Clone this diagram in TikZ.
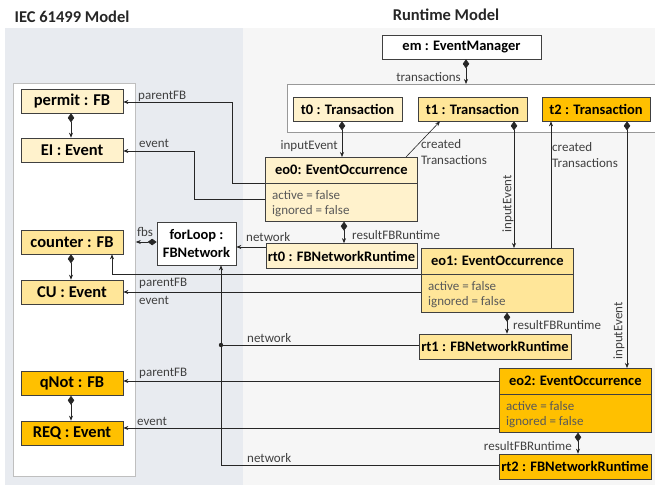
\documentclass[tikz,border=0pt]{standalone}
\usepackage{fontspec}
\setmainfont{Carlito}
\usetikzlibrary{arrows.meta,calc}

\definecolor{panelL}{HTML}{E8EBF0}
\definecolor{panelR}{HTML}{F6F6F6}
\definecolor{cream}{HTML}{FFF2CC}
\definecolor{lightyel}{HTML}{FFE699}
\definecolor{gold}{HTML}{FFC000}
\definecolor{edge}{HTML}{404040}
\definecolor{lbl}{HTML}{404040}
\definecolor{attrc}{HTML}{595959}
\definecolor{frame}{HTML}{BFBFBF}

% EventOccurrence object: name, fill, left x, top y, title
\newcommand\eobox[5]{%
  \node[obj, fill=#2, minimum width=152, minimum height=64, anchor=north west] (#1) at (#3,#4) {};
  \draw[draw=edge, line width=0.7pt] ($(#1.north west)+(0,26)$) -- ($(#1.north east)+(0,26)$);
  \node[objtext] (#1-h) at ($(#1.north)+(0,13)$) {#5};
  \node[attrs, anchor=west] (#1-a) at ($(#1.north west)+(7,38)$) {active = false};
  \node[attrs, anchor=west] (#1-i) at ($(#1.north west)+(7,54)$) {ignored = false};
}

\begin{document}
\begin{tikzpicture}[x=1pt,y=-1pt,
  obj/.style={draw=edge, line width=0.7pt, inner sep=0pt,
    font=\fontsize{14.5}{16}\selectfont\bfseries, minimum height=24},
  fbobj/.style={obj, minimum width=102, font=\fontsize{16.5}{18}\selectfont\bfseries},
  objtext/.style={inner sep=0pt, font=\fontsize{14.5}{16}\selectfont\bfseries},
  attrs/.style={inner sep=0pt, font=\fontsize{13}{15}\selectfont, text=attrc},
  lab/.style={inner sep=0pt, font=\fontsize{13}{15}\selectfont, text=lbl},
  title/.style={inner sep=0pt, font=\fontsize{16.5}{18}\selectfont\bfseries, text=black!85},
  conn/.style={draw=black!85, line width=0.6pt},
  ref/.style={conn, -{Stealth[length=5pt,width=4pt]}},
  comp/.style={conn, {Diamond[length=9pt,width=6.5pt]}-{Stealth[length=5pt,width=4pt]}},
]
\useasboundingbox (0,0) rectangle (655,485);

% panels
\fill[panelL] (5,28) rectangle (243,485);
\fill[panelR] (243,28) rectangle (655,485);
\node[title] (ttl-iec) at (72,17) {IEC 61499 Model};
\node[title] (ttl-rt) at (446,15) {Runtime Model};

% containers
\node[draw=frame, fill=white, line width=0.8pt, inner sep=0pt,
  minimum width=122, minimum height=393, anchor=north west] (iec) at (13,83) {};
\node[draw=frame!80!black, fill=white, line width=0.8pt, inner sep=0pt,
  minimum width=380, minimum height=48, anchor=north west] (tx) at (287,84) {};

% IEC 61499 objects
\node[fbobj, fill=cream] (permit) at (72,101) {permit : FB};
\node[fbobj, fill=cream] (ei) at (72,150) {EI : Event};
\node[fbobj, fill=lightyel] (counter) at (72,242) {counter : FB};
\node[fbobj, fill=lightyel] (cu) at (72,292) {CU : Event};
\node[fbobj, fill=gold] (qnot) at (72,383.5) {qNot : FB};
\node[fbobj, fill=gold] (req) at (72,433) {REQ : Event};
\node[obj, fill=white, minimum width=79, minimum height=43, align=center,
  font=\fontsize{14.5}{18}\selectfont\bfseries] (loop) at (196.5,243.5) {forLoop :\\FBNetwork};

% runtime objects
\node[obj, fill=white, minimum width=159] (em) at (461.5,47) {em : EventManager};
\node[obj, fill=cream, minimum width=109] (t0) at (347.5,109) {t0 : Transaction};
\node[obj, fill=lightyel, minimum width=109] (t1) at (472.5,109) {t1 : Transaction};
\node[obj, fill=gold, minimum width=108] (t2) at (596,109) {t2 : Transaction};

\eobox{eo0}{cream}{265}{157}{eo0: EventOccurrence}
\eobox{eo1}{lightyel}{421}{248}{eo1: EventOccurrence}
\eobox{eo2}{gold}{499}{368}{eo2: EventOccurrence}

\node[obj, fill=cream, minimum width=151, minimum height=25] (rt0) at (341.5,256) {rt0 : FBNetworkRuntime};
\node[obj, fill=lightyel, minimum width=152, minimum height=25] (rt1) at (495,346.5) {rt1 : FBNetworkRuntime};
\node[obj, fill=gold, minimum width=152, minimum height=25] (rt2) at (575,466.5) {rt2 : FBNetworkRuntime};

% compositions inside the IEC 61499 model
\draw[comp] (permit.south -| 71,0) -- (ei.north -| 71,0);
\draw[comp] (counter.south -| 71,0) -- (cu.north -| 71,0);
\draw[comp] (qnot.south -| 71,0) -- (req.north -| 71,0);
\draw[comp] (loop.west |- 0,242) -- (iec.east |- 0,242);
\node[lab, anchor=west] (l-fbs) at (137,232) {fbs};

% event manager and transactions
\draw[comp] (em.south -| 466,0) -- (tx.north -| 466,0);
\node[lab, anchor=east] (l-tr) at (461,77) {transactions};

% eo0
\draw[comp] (t0.south -| 342,0) -- (eo0.north -| 342,0);
\node[lab, anchor=east] (l-ie0) at (338,146) {inputEvent};
\draw[ref] (eo0.north -| 406,0) -- (t1.south -| 440,0);
\node[lab, anchor=west, align=left, font=\fontsize{13}{16}\selectfont] (l-ct0) at (421,152) {created\\Transactions};
\draw[comp] (eo0.south -| 344,0) -- (rt0.north -| 344,0);
\node[lab, anchor=west] (l-rr0) at (352,235) {resultFBRuntime};
\draw[ref] (eo0.west |- 0,183) -- (232,183) |- (permit.east |- 0,102);
\node[lab, anchor=west] (l-pf0) at (138,96) {parentFB};
\draw[ref] (eo0.west |- 0,199) -- (194,199) |- (ei.east |- 0,151);
\node[lab, anchor=west] (l-ev0) at (139,143) {event};
\draw[ref] (rt0.west |- 0,247) -- (loop.east |- 0,247);
\node[lab, anchor=west] (l-nw0) at (246,237) {network};

% eo1
\draw[comp] (t1.south -| 514,0) -- (eo1.north -| 514,0);
\node[lab, rotate=90] (l-ie1) at (508,204) {inputEvent};
\draw[ref] (eo1.north -| 551,0) -- (t2.south -| 551,0);
\node[lab, anchor=west, align=left, font=\fontsize{13}{16}\selectfont] (l-ct1) at (552,155) {created\\Transactions};
\draw[comp] (eo1.south -| 507,0) -- (rt1.north -| 507,0);
\node[lab, anchor=west] (l-rr1) at (513,325) {resultFBRuntime};
\draw[ref] (eo1.west |- 0,274) -| (counter.south -| 112,0);
\node[lab, anchor=west] (l-pf1) at (139,283) {parentFB};
\draw[ref] (eo1.west |- 0,292) -- (cu.east |- 0,292);
\node[lab, anchor=west] (l-ev1) at (139,300) {event};
\coordinate (jn) at (221,345);
\draw[conn] (rt1.west |- jn) -- (jn);
\fill[black!85] (jn) circle (2.2pt);
\node[lab, anchor=west] (l-nw1) at (247,338) {network};

% eo2
\draw[comp] (t2.south -| 627,0) -- (eo2.north -| 627,0);
\node[lab, rotate=90] (l-ie2) at (619,331) {inputEvent};
\draw[comp] (eo2.south -| 578,0) -- (rt2.north -| 578,0);
\node[lab, anchor=east] (l-rr2) at (572,446) {resultFBRuntime};
\draw[ref] (eo2.west |- 0,381) -- (qnot.east |- 0,381);
\node[lab, anchor=west] (l-pf2) at (139,373) {parentFB};
\draw[ref] (eo2.west |- 0,428) -- (req.east |- 0,428);
\node[lab, anchor=west] (l-ev2) at (137,421) {event};
\draw[ref] (rt2.west |- 0,465) -| (loop.south -| jn);
\node[lab, anchor=west] (l-nw2) at (247,458) {network};
\end{tikzpicture}
\end{document}
